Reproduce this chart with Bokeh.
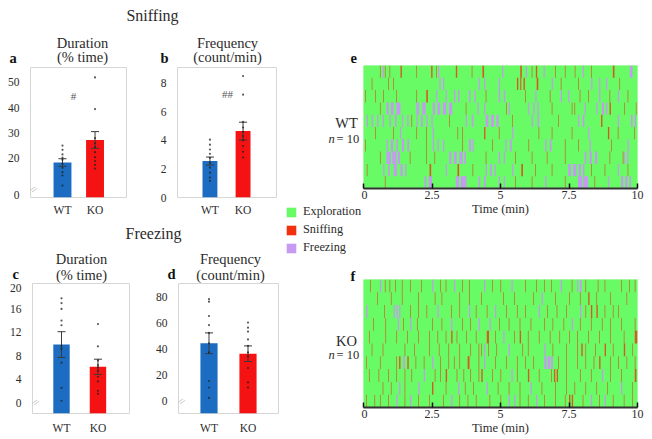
from bokeh.plotting import figure
from bokeh.models import Range1d, FixedTicker, Label, Legend, LegendItem, ColumnDataSource
from bokeh.layouts import row, column
from bokeh.embed import file_html
from bokeh.resources import INLINE

FONT = "Liberation Serif"
TXT = "#2b2b2b"
BLUE = "#1C6DC2"
RED = "#F51212"
GREEN = "#68FB66"
SNIFF_C = "#F2300E"
FREEZE_C = "#C69AF2"

# ---------------- data: bar panels ----------------
GROUPS = ["WT", "KO"]

A_MEAN = [18.4, 27.3]
A_SEM = [1.5, 3.3]
A_WT = [25.1, 23.4, 21.6, 20.3, 19.5, 17.9, 16.3, 14.6, 13.3, 9.3]
A_KO = [52.0, 39.5, 28.0, 26.0, 24.5, 22.5, 20.5, 19.0, 17.5, 16.0]
A_TICKS = [5.4, 20, 30, 40, 50]
A_TICK_LABELS = ["0", "20", "30", "40", "50"]

B_MEAN = [2.55, 4.65]
B_SEM = [0.28, 0.62]
B_WT = [4.05, 3.7, 3.36, 3.06, 2.78, 2.43, 2.09, 1.74, 1.4, 1.17]
B_KO = [8.5, 7.2, 5.3, 4.9, 4.6, 4.3, 4.0, 3.6, 3.2, 2.8]
B_TICKS = [0, 2, 4, 6, 8]

C_MEAN = [9.9, 6.1]
C_SEM = [2.2, 1.3]
C_WT = [17.8, 17.0, 16.0, 14.0, 13.2, 9.7, 9.2, 6.8, 2.5, 0.3]
C_KO = [13.4, 9.6, 7.2, 6.4, 6.0, 5.4, 4.4, 3.6, 2.0, 1.5]
C_TICKS = [0, 4, 8, 12, 16, 20]

D_MEAN = [44, 36]
D_SEM = [8, 6]
D_WT = [78, 76, 65, 58, 52, 44, 37, 15, 10, 2]
D_KO = [60, 56, 53, 47, 42, 37, 34, 25, 14, 10]
D_TICKS = [0, 20, 40, 60, 80]

# ---------------- data: ethograms ----------------
SESSION_MIN = 10
N_ROWS = 10
TIME_TICKS = [0, 2.5, 5, 7.5, 10]
TIME_LABELS = ["0", "2.5", "5", "7.5", "10"]
BEHAVIOURS = ["Exploration", "Sniffing", "Freezing"]
SNIFF_DUR = 0.024
FREEZE_DUR = 0.045

WT_SNIFF = [
    [0.60, 0.78, 0.95, (1.35, .05), 1.93, (2.47, .05), 2.65, (3.37, .05), 3.95, (4.34, .06), (5.72, .06), 6.14, (6.29, .05), 6.99, 7.35, 7.71, 8.31, (9.10, .06)],
    [0.30, 0.90, 1.08, (5.60, .05), (5.72, .04), (5.84, .05), (6.32, .06), 7.20, 7.83, 9.34],
    [0.06, 0.42, 0.72, 1.20, 1.93, (2.29, .06), 4.46, 5.90, 6.80, 7.89, 8.20, 8.98, 9.64],
    [0.60, 3.73, 5.20, 6.87, 7.60, 7.70, (8.98, .05), 9.52, 9.94],
    [1.75, 3.13, 5.42, 7.10, (8.67, .05)],
    [0.42, 1.08, 1.93, 2.29, 3.43, 3.60, (4.40, .05), 4.94, 6.39, 6.87, 7.60, (8.92, .05), 9.28, 9.88],
    [0.06, 2.29, 3.60, 4.70, 6.02, 7.35, 7.83, 9.04],
    [0.60, 1.69, 2.29, 2.59, 4.46, 5.54, 6.14, 6.69, 7.35, 8.98, 9.46],
    [0.12, (2.41, .06), (3.43, .06), 3.98, (5.76, .06), 6.27, 6.87, 8.31, 8.80, 9.64],
    [0.78, 5.54, 6.14, 7.35, 8.43],
]
WT_FREEZE = [
    [0.70, 2.72, 5.06, 5.92, 6.57, 8.00, (9.72, .10)],
    [2.77, 2.90, 4.20, 4.40, 4.94, 6.87, 8.31, 8.60, 8.85],
    [2.65, 3.00, (3.30, .05), (3.45, .05), (3.85, .05), (4.05, .05), (4.94, .05), (5.12, .05), 6.27, 7.20, 7.47, 8.60, 9.28],
    [(0.84, .08), (1.00, .10), (1.20, .15), (1.93, .10), (2.15, .12), (2.53, .08), (2.70, .10), (2.90, .12), (3.12, .12), 4.16, 4.40, 5.30, 6.00, 6.20, 6.35, 8.07, 8.50, (8.70, .08), 8.85],
    [0.12, 0.30, 0.50, 0.70, 0.95, (1.15, .06), 1.40, 1.60, 1.93, (2.10, .06), 2.30, 2.48, 3.73, (3.95, .06), (4.46, .10), (4.66, .10), (4.85, .08), 6.14, (6.35, .06), 7.83, (8.00, .06), 9.28, (9.76, .06), 9.90],
    [1.33, 2.53, 5.42, 8.20],
    [0.84, (1.00, .08), (1.20, .06), (1.40, .08), (1.60, .06), 2.53, 2.70, 2.90, (3.85, .08), 3.98, 5.18, (5.35, .06), 6.63, (6.80, .06), 8.25, 9.64],
    [(0.84, .16), (1.05, .15), (1.25, .08), (3.13, .08), (3.30, .10), (3.50, .12), (3.68, .06), 4.94, 5.12, (8.07, .06), (8.25, .08), (8.45, .08), 9.50, 9.62],
    [0.72, (0.90, .06), (1.10, .12), (1.35, .08), 1.52, 3.00, 4.46, (4.62, .06), 4.78, 5.42, (7.47, .10), (7.65, .12), (7.85, .08), (8.00, .06), 9.28],
    [(2.23, .06), (2.38, .12), (3.37, .12), (3.55, .15), (3.70, .06), (4.20, .06), (4.40, .06), 4.94, 5.12, 6.63, (7.83, .15), (8.02, .18), 8.92, (9.40, .08), (9.55, .08), (9.70, .06)],
]

KO_SNIFF = [
    [0.25, 0.78, 0.95, 1.15, 1.40, 1.70, 2.10, 2.80, 3.00, 3.60, 3.85, 4.70, 5.00, 5.90, 6.30, 6.60, 6.85, 7.60, 8.10, 8.55, 8.80, 9.40, 9.70, 9.90],
    [0.50, 1.00, 1.40, 2.00, 2.60, 2.85, 3.50, 3.85, 4.30, 5.10, 5.50, 6.20, 7.00, 7.50, 7.90, (8.20, .05), 8.50, 9.00, 9.60],
    [0.75, 1.70, 2.00, 2.30, 3.20, 3.50, 4.10, 4.50, 5.20, 5.60, 5.90, 6.70, 7.05, 7.40, 8.10, (8.30, .05), (8.50, .05), 8.80, 9.10, 9.30],
    [0.35, 0.80, 1.45, 1.95, 2.50, 2.85, 3.60, 3.90, 4.95, 5.30, 5.70, 6.10, 6.60, 6.90, 7.30, 7.90, 8.30, 8.70, 9.00, 9.40, 9.90],
    [0.20, 0.80, 1.20, 1.60, 2.00, 2.40, 2.70, 3.00, (3.20, .05), 3.40, 3.75, 4.10, (4.50, .08), 4.80, 5.50, (5.70, .05), 6.00, 6.40, 6.80, 7.15, 7.50, 7.80, 8.20, 8.60, 9.00, 9.50, (9.90, .10)],
    [0.30, 0.70, 1.50, 1.85, 2.40, 2.75, 3.10, 3.50, 3.90, 4.20, 4.30, 4.55, 4.85, 5.80, 6.00, 6.90, 7.40, 7.80, (7.95, .05), 8.10, 8.45, (8.80, .05), 9.10, (9.50, .05), 9.80],
    [0.10, 0.60, 1.20, (1.30, .05), (1.60, .05), 1.90, 2.20, 2.80, 3.10, 3.30, 3.50, (3.80, .07), 4.20, 4.80, 5.20, 5.60, 5.90, 6.20, 7.10, 7.40, 7.80, 8.10, 8.40, (8.60, .05), 9.00, 9.30, 9.60, 9.90],
    [0.20, 0.55, 0.90, 1.20, 1.50, 1.75, 2.60, 2.80, (3.00, .05), 3.40, 3.65, 3.90, 4.20, (4.30, .05), 4.70, 5.00, 5.60, (6.00, .05), 6.40, 6.85, (6.95, .05), (7.05, .05), 7.40, 7.90, 8.30, 9.00, 9.40, (9.90, .06)],
    [0.70, 1.00, 1.50, (2.50, .05), 3.00, 3.70, 4.00, 4.90, 5.30, 5.70, 6.50, 7.00, 7.40, 7.70, 8.10, 8.50, 8.90, 9.80],
    [0.10, 0.40, 0.60, 0.90, 1.50, 2.00, 2.40, 2.90, 3.50, 3.80, 4.10, 4.60, 5.00, 5.70, 6.00, 6.60, 7.00, 7.35, (7.50, .05), (7.60, .05), 8.00, 8.60, 9.10, 9.50, 9.80],
]
KO_FREEZE = [
    [0.60, 2.50, 3.30, 4.40, 5.40, 7.20, 7.80, (7.90, .06)],
    [6.50],
    [0.10, 1.10, 1.20, 1.30, 2.70, 3.85, 4.80, 6.40, 7.90],
    [1.25, 1.70, 3.20, 4.20, 4.60, 7.60],
    [5.10],
    [4.40, 5.30, 6.60],
    [(1.45, .06), 2.50, 4.40, (6.60, .08), (6.72, .10), (6.85, .06)],
    [2.20, 5.40, 8.70],
    [1.30, 2.00, 3.45, 4.50, 6.10, 9.40],
    [1.20, 1.70, 3.20, 5.30, 5.50, 6.30, 8.30, 8.80],
]


def lab(p, frame, xp, yp, text, size, align="center", style="normal", color=TXT, angle=0.0):
    fl, fb = frame
    p.add_layout(Label(x=xp - fl, y=fb - yp, x_units="screen", y_units="screen", text=text,
                       text_font=FONT, text_font_size=size, text_align=align,
                       text_baseline="middle", text_font_style=style, text_color=color,
                       angle=angle))


def bar_panel(W, H, borders, xr, yr, yticks, ylabels, means, sems, pts_wt, pts_ko, bw, xstand):
    bl, br, bt, bb = borders
    p = figure(width=W, height=H, x_range=Range1d(*xr), y_range=Range1d(*yr),
               output_backend="svg", toolbar_location=None,
               min_border_left=bl, min_border_right=br, min_border_top=bt, min_border_bottom=bb)
    xs = list(range(len(GROUPS)))
    p.vbar(x=xs, top=means, bottom=yr[0], width=bw, fill_color=[BLUE, RED], line_color=None)
    lo = [m - s for m, s in zip(means, sems)]
    hi = [m + s for m, s in zip(means, sems)]
    p.segment(x0=xs, y0=lo, x1=xs, y1=hi, line_color="#3a3a3a", line_width=1)
    p.scatter(x=xs + xs, y=lo + hi, marker="dash", size=8, line_color="#3a3a3a", line_width=1)
    px = [0] * len(pts_wt) + [1] * len(pts_ko)
    p.scatter(x=px, y=pts_wt + pts_ko, marker="circle", size=2.2, fill_color="#222222",
              line_color=None, fill_alpha=0.75)
    p.grid.visible = False
    p.outline_line_color = "#d6d6d6"
    for ax in (p.xaxis[0], p.yaxis[0]):
        ax.axis_line_color = None
        ax.major_tick_line_color = None
        ax.minor_tick_line_color = None
        ax.major_label_text_font = FONT
        ax.major_label_text_color = TXT
    p.xaxis.ticker = FixedTicker(ticks=xs)
    p.xaxis.major_label_overrides = {i: g for i, g in enumerate(GROUPS)}
    p.xaxis.major_label_text_font_size = "11.5px"
    p.xaxis.major_label_standoff = xstand
    p.yaxis.ticker = FixedTicker(ticks=yticks)
    if ylabels is not None:
        p.yaxis.major_label_overrides = {t: l for t, l in zip(yticks, ylabels)}
    p.yaxis.major_label_text_font_size = "11.5px"
    p.yaxis.major_label_standoff = 5
    return p


def events(rows_list, default):
    L, R, T, B = [], [], [], []
    for r, evs in enumerate(rows_list):
        for e in evs:
            s, d = e if isinstance(e, tuple) else (e, default)
            L.append(s); R.append(s + d); T.append(r); B.append(r + 1)
    return ColumnDataSource(dict(left=L, right=R, top=T, bottom=B))


def ethogram(W, H, borders, sniff_rows, freeze_rows):
    bl, br, bt, bb = borders
    p = figure(width=W, height=H, x_range=Range1d(0, SESSION_MIN), y_range=Range1d(N_ROWS, 0),
               output_backend="svg", toolbar_location=None,
               min_border_left=bl, min_border_right=br, min_border_top=bt, min_border_bottom=bb)
    p.background_fill_color = GREEN
    rows = list(range(N_ROWS))
    p.quad(left=0, right=SESSION_MIN, top=rows, bottom=[r + 1 for r in rows],
           fill_color=GREEN, line_color=None)
    p.quad(source=events(freeze_rows, FREEZE_DUR), left="left", right="right", top="top",
           bottom="bottom", fill_color=FREEZE_C, line_color=None)
    p.quad(source=events(sniff_rows, SNIFF_DUR), left="left", right="right", top="top",
           bottom="bottom", fill_color=SNIFF_C, line_color=None, fill_alpha=0.78)
    p.grid.visible = False
    p.outline_line_color = None
    p.yaxis.visible = False
    ax = p.xaxis[0]
    ax.ticker = FixedTicker(ticks=TIME_TICKS)
    ax.major_label_overrides = {t: l for t, l in zip(TIME_TICKS, TIME_LABELS)}
    ax.axis_line_color = "#333333"
    ax.axis_line_width = 2
    ax.major_tick_in = 5
    ax.major_tick_out = 0
    ax.major_tick_line_width = 1.5
    ax.major_tick_line_color = "#111111"
    ax.minor_tick_line_color = None
    ax.major_label_text_font = FONT
    ax.major_label_text_font_size = "12px"
    ax.major_label_text_color = TXT
    ax.major_label_standoff = 2
    ax.axis_label = "Time (min)"
    ax.axis_label_text_font = FONT
    ax.axis_label_text_font_size = "12.5px"
    ax.axis_label_text_font_style = "normal"
    ax.axis_label_text_color = TXT
    ax.axis_label_standoff = 0
    return p


def strip(W, H):
    p = figure(width=W, height=H, x_range=Range1d(0, 1), y_range=Range1d(0, 1),
               output_backend="svg", toolbar_location=None, x_axis_location=None,
               y_axis_location=None, min_border_left=0, min_border_right=0,
               min_border_top=0, min_border_bottom=0)
    p.grid.visible = False
    p.outline_line_color = None
    return p


# ---------------- left column (page x 0..283) ----------------
s1 = strip(283, 65)
S1 = (0, 65)
lab(s1, S1, 152, 15, "Sniffing", "16px")
lab(s1, S1, 9, 57, "a", "14.5px", align="left", style="bold", color="#111")
lab(s1, S1, 82, 42, "Duration", "14.5px")
lab(s1, S1, 82, 56, "(% time)", "14.5px")
lab(s1, S1, 160, 57, "b", "14.5px", align="left", style="bold", color="#111")
lab(s1, S1, 227, 42, "Frequency", "14.5px")
lab(s1, S1, 227, 56, "(count/min)", "14.5px")

fa = bar_panel(150, 155, (30, 24, 2, 23), (-0.983, 1.967), (4.6, 55.9), A_TICKS, A_TICK_LABELS,
               A_MEAN, A_SEM, A_WT, A_KO, 0.55, 0)
FA = (30, 197)
lab(fa, FA, 73, 95, "#", "11px", color="#555")
lab(fa, FA, 33, 189, "//", "9px", color="#999", angle=-0.6)

fb = bar_panel(133, 155, (27, 7, 0, 23), (-0.98, 2.01), (0, 9.1), B_TICKS, None,
               B_MEAN, B_SEM, B_WT, B_KO, 0.45, 0)
FB = (177, 197)
lab(fb, FB, 227, 93, "##", "11px", color="#555")

s2 = strip(283, 63)
S2 = (0, 283)
lab(s2, S2, 153, 233, "Freezing", "16px")
lab(s2, S2, 12, 273, "c", "14.5px", align="left", style="bold", color="#111")
lab(s2, S2, 81, 258, "Duration", "14.5px")
lab(s2, S2, 81, 274, "(% time)", "14.5px")
lab(s2, S2, 167, 273, "d", "14.5px", align="left", style="bold", color="#111")
lab(s2, S2, 230, 258, "Frequency", "14.5px")
lab(s2, S2, 230, 274, "(count/min)", "14.5px")

fc = bar_panel(150, 154, (32, 21, 0, 24), (-0.795, 1.865), (-1.88, 20.34), C_TICKS, None,
               C_MEAN, C_SEM, C_WT, C_KO, 0.45, 2)
FC = (32, 413)
lab(fc, FC, 35, 402, "//", "9px", color="#999", angle=-0.6)

fd = bar_panel(133, 154, (28, 5, 0, 24), (-0.782, 1.782), (-10, 90), D_TICKS, None,
               D_MEAN, D_SEM, D_WT, D_KO, 0.44, 2)
FD = (178, 413)
lab(fd, FD, 181, 401, "//", "9px", color="#999", angle=-0.6)

# ---------------- right: label strip (page x 283..361) ----------------
sl = strip(78, 437)
SL = (283, 437)
lab(sl, SL, 350, 57, "e", "14.5px", align="left", style="bold", color="#111")
lab(sl, SL, 346, 122, "WT", "14.5px")
lab(sl, SL, 328, 138, "n", "12.5px", align="left", style="italic")
lab(sl, SL, 336, 138, "= 10", "12.5px", align="left")
lab(sl, SL, 350, 275, "f", "14.5px", align="left", style="bold", color="#111")
lab(sl, SL, 346, 340, "KO", "14.5px")
lab(sl, SL, 328, 354, "n", "12.5px", align="left", style="italic")
lab(sl, SL, 336, 354, "= 10", "12.5px", align="left")
# legend swatches: zero-area quads that only carry the fill style for the legend
swatch = dict(left=[0], right=[0], top=[0], bottom=[0])
swatches = [sl.quad(source=ColumnDataSource(swatch), left="left", right="right", top="top",
                    bottom="bottom", fill_color=c, line_color=None)
            for c in (GREEN, SNIFF_C, FREEZE_C)]
legend = Legend(items=[LegendItem(label=b, renderers=[r]) for b, r in zip(BEHAVIOURS, swatches)],
                location=(285 - 283, 437 - 255), orientation="vertical",
                glyph_width=12, glyph_height=12, label_height=14, spacing=3, padding=0, margin=0,
                border_line_color=None, background_fill_alpha=0, label_standoff=6,
                label_text_font=FONT, label_text_font_size="12.3px", label_text_color=TXT)
sl.add_layout(legend)

# ---------------- right: ethograms (page x 361..650) ----------------
fe = ethogram(289, 258, (2, 10, 65, 70), WT_SNIFF, WT_FREEZE)
ff = ethogram(289, 179, (1, 13, 21, 30), KO_SNIFF, KO_FREEZE)

left = column(s1, row(fa, fb), s2, row(fc, fd))
right = row(sl, column(fe, ff))
root = row(left, right)

open("out.html", "w").write(file_html(root, INLINE))
